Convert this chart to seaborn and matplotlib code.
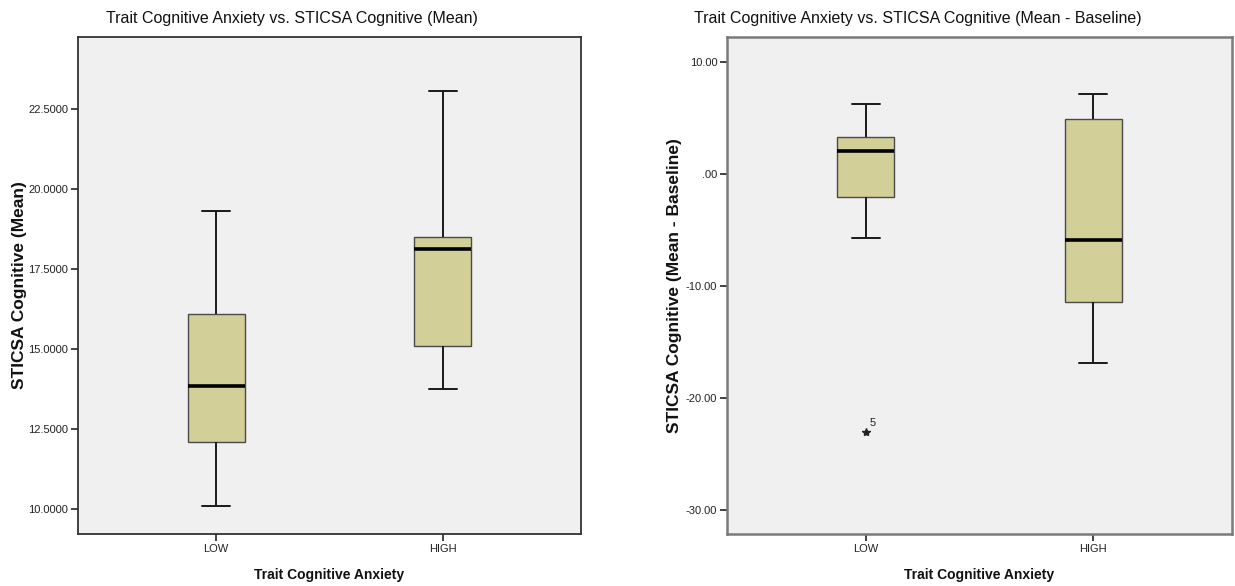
import numpy as np
import pandas as pd
import seaborn as sns
import matplotlib.pyplot as plt

# five-number summaries (min whisker, Q1, median, Q3, max whisker)
categories = ["LOW", "HIGH"]
mean_low = [10.09, 12.09, 13.84, 16.09, 19.30]
mean_high = [13.75, 15.09, 18.13, 18.50, 23.06]
diff_low = [-5.70, -2.05, 2.05, 3.30, 6.25]
diff_high = [-16.90, -11.40, -5.90, 4.90, 7.14]

# extreme case in the LOW group of the right chart
outlier_group = "LOW"
outlier_value = -23.0
outlier_case = "5"

mean_ticks = [10.0, 12.5, 15.0, 17.5, 20.0, 22.5]
mean_ticklabels = ["10.0000", "12.5000", "15.0000", "17.5000", "20.0000", "22.5000"]
diff_ticks = [-30, -20, -10, 0, 10]
diff_ticklabels = ["-30.00", "-20.00", "-10.00", ".00", "10.00"]

titles = ["Trait Cognitive Anxiety vs. STICSA Cognitive (Mean)",
          "Trait Cognitive Anxiety vs. STICSA Cognitive (Mean - Baseline)"]
ylabels = ["STICSA Cognitive (Mean)", "STICSA Cognitive (Mean - Baseline)"]
xlabel = "Trait Cognitive Anxiety"


def long_df(low, high):
    return pd.DataFrame({
        "group": ["LOW"] * len(low) + ["HIGH"] * len(high),
        "value": low + high,
    })


sns.set_style("white")
plt.rcParams["font.family"] = ["Liberation Sans", "DejaVu Sans"]

fig = plt.figure(figsize=(12.35, 5.86), dpi=100)
ax1 = fig.add_axes([78 / 1235, 52 / 586, 503 / 1235, 497 / 586])
ax2 = fig.add_axes([727 / 1235, 52 / 586, 505 / 1235, 497 / 586])

panels = [
    (ax1, long_df(mean_low, mean_high), (9.22, 24.75), mean_ticks, mean_ticklabels, "#333333"),
    (ax2, long_df(diff_low, diff_high), (-32.14, 12.23), diff_ticks, diff_ticklabels, "#7a7a7a"),
]

for i, (ax, df, ylim, ticks, ticklabels, spine_col) in enumerate(panels):
    ax.set_facecolor("#F0F0F0")
    sns.boxplot(data=df, x="group", y="value", order=categories, ax=ax,
                width=0.25, color="#D3CF98", saturation=1, showfliers=False,
                boxprops=dict(edgecolor="#4a4a4a", linewidth=1.0),
                medianprops=dict(color="black", linewidth=2.6),
                whiskerprops=dict(color="#1a1a1a", linewidth=1.4),
                capprops=dict(color="#1a1a1a", linewidth=1.4))
    ax.set_xlim(-0.61, 1.61)
    ax.set_ylim(*ylim)
    ax.set_yticks(ticks)
    ax.set_yticklabels(ticklabels, fontsize=8, color="#222222")
    ax.set_xticks([0, 1])
    ax.set_xticklabels(categories, fontsize=8, color="#222222")
    ax.tick_params(axis="both", which="both", direction="out", length=5, width=1.2,
                   color="#222222", left=True, bottom=True, pad=2)
    for s in ax.spines.values():
        s.set_color(spine_col)
        s.set_linewidth(1.3 if i == 0 else 1.8)
    ax.set_ylabel(ylabels[i], fontsize=12.5, fontweight="bold", color="#111111")
    ax.set_xlabel(xlabel, fontsize=10, fontweight="bold", color="#111111")
    ax.xaxis.set_label_coords(0.5, -0.068)

ax1.yaxis.set_label_coords(-0.101, 0.5)
ax2.yaxis.set_label_coords(-0.089, 0.5)

# extreme value marked with a star and its case number
ox = categories.index(outlier_group)
ax2.plot([ox], [outlier_value], marker="*", color="#222222", markersize=6, linestyle="none")
ax2.annotate(outlier_case, (ox, outlier_value), xytext=(3, 4), textcoords="offset points",
             fontsize=8, color="#222222")

fig.text(292 / 1235, 1 - 18 / 586, titles[0], ha="center", va="center",
         fontsize=11.5, color="#111111")
fig.text(918 / 1235, 1 - 18 / 586, titles[1], ha="center", va="center",
         fontsize=11.5, color="#111111")

fig.savefig("out.png", dpi=100, facecolor="white")
